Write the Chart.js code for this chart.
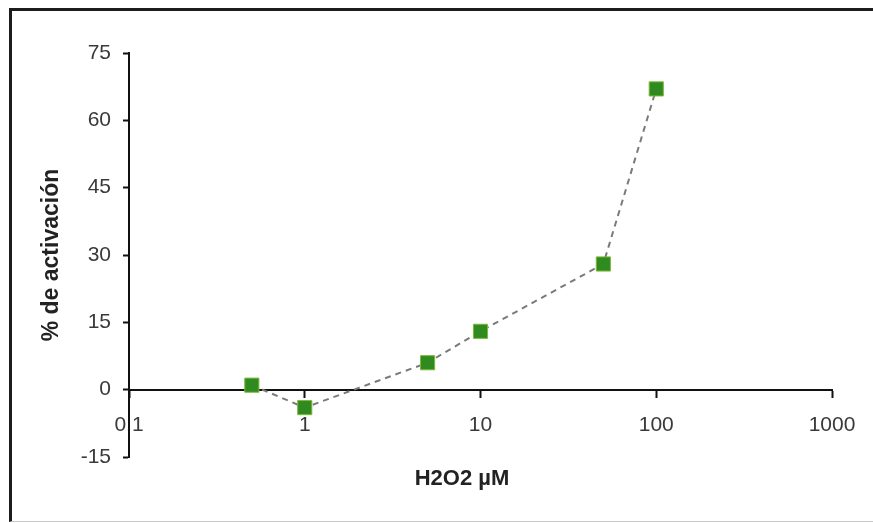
<!DOCTYPE html>
<html>
<head>
<meta charset="utf-8">
<script src="https://cdn.jsdelivr.net/npm/chart.js@4/dist/chart.umd.min.js"></script>
<style>
  html, body { margin: 0; padding: 0; background: #fff; }
  #wrap { position: relative; width: 873px; height: 523px; overflow: hidden; }
  #frame { position: absolute; left: 9px; top: 8px; width: 900px; height: 510px;
           border-left: 3px solid #1c1c1c; border-top: 3px solid #1c1c1c; border-bottom: 1px solid #c8c8c8; }
  #c { position: absolute; left: 0; top: 0; }
</style>
</head>
<body>
<div id="wrap">
  <div id="frame"></div>
  <canvas id="c" width="873" height="523"></canvas>
</div>
<script>
const concentrations = [0.5, 1, 5, 10, 50, 100];
const activation = [1, -4, 6, 13, 28, 67];
const xTickValues = [0.1, 1, 10, 100, 1000];
const yTickValues = [-15, 0, 15, 30, 45, 60, 75];
const xTitle = 'H2O2 µM';
const yTitle = '% de activación';

const points = concentrations.map((x, i) => ({ x: x, y: activation[i] }));

const xTitlePlugin = {
  id: 'xTitle',
  afterDraw(chart) {
    const ctx = chart.ctx;
    ctx.save();
    ctx.font = 'bold 22px "Liberation Sans", Arial, sans-serif';
    ctx.fillStyle = '#222';
    ctx.textAlign = 'center';
    ctx.textBaseline = 'middle';
    ctx.fillText(xTitle, 462, 479);
    ctx.restore();
  }
};

new Chart(document.getElementById('c'), {
  type: 'scatter',
  data: {
    datasets: [{
      data: points,
      showLine: true,
      borderColor: '#7a7a7a',
      borderWidth: 2,
      borderDash: [6, 5],
      pointStyle: 'rect',
      pointRadius: 10,
      pointHoverRadius: 10,
      pointBackgroundColor: '#2f8a1f',
      pointBorderColor: '#7fb83a',
      pointBorderWidth: 1
    }]
  },
  options: {
    responsive: false,
    animation: false,
    events: [],
    layout: { padding: { top: 53, right: 41, bottom: 66, left: 0 } },
    plugins: { legend: { display: false }, tooltip: { enabled: false } },
    scales: {
      x: {
        type: 'logarithmic',
        min: 0.1,
        max: 1000,
        position: { y: 0 },
        afterFit(scale) { scale.height = 0; },
        afterBuildTicks(scale) { scale.ticks = xTickValues.map(v => ({ value: v })); },
        grid: { drawOnChartArea: false, drawTicks: true, tickLength: 7, tickColor: '#111', tickWidth: 2 },
        border: { display: true, color: '#111', width: 2 },
        ticks: {
          autoSkip: false,
          maxRotation: 0,
          padding: 16,
          color: '#3a3a3a',
          font: { family: '"Liberation Sans", Arial, sans-serif', size: 21 },
          callback: (v) => String(v)
        }
      },
      y: {
        type: 'linear',
        position: 'left',
        min: -15,
        max: 75,
        afterFit(scale) { scale.width = 129; },
        afterBuildTicks(scale) { scale.ticks = yTickValues.map(v => ({ value: v })); },
        grid: { drawOnChartArea: false, drawTicks: true, tickLength: 6, tickColor: '#111', tickWidth: 2 },
        border: { display: true, color: '#111', width: 2 },
        ticks: {
          padding: 12,
          color: '#3a3a3a',
          font: { family: '"Liberation Sans", Arial, sans-serif', size: 21 }
        },
        title: {
          display: true,
          text: yTitle,
          color: '#222',
          padding: { top: 38, bottom: 0 },
          font: { family: '"Liberation Sans", Arial, sans-serif', size: 23, weight: 'bold' }
        }
      }
    }
  },
  plugins: [xTitlePlugin]
});
</script>
</body>
</html>
